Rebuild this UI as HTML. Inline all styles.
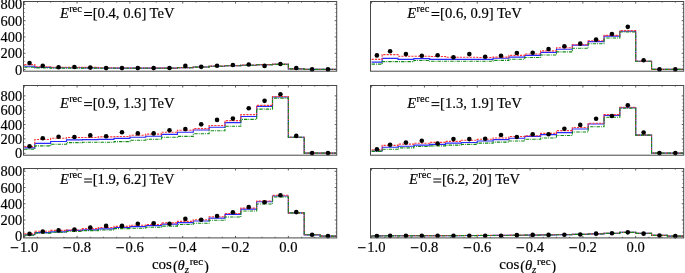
<!DOCTYPE html>
<html><head><meta charset="utf-8"><style>
html,body{margin:0;padding:0;background:#fff;}
body{width:685px;height:273px;overflow:hidden;}
svg{display:block;font-family:'Liberation Serif',serif;will-change:transform} text{stroke:#000;stroke-width:0.18px}
</style></head><body>
<svg width="685" height="273" viewBox="0 0 685 273">
<clipPath id="clipA"><rect x="23.5" y="1.5" width="313.2" height="69.7"/></clipPath><g clip-path="url(#clipA)" fill="none"><path d="M24.25 66.21H34.81V67.44H50.66V67.76H66.51V67.76H82.35V67.85H98.2V68.01H114.04V68.09H129.89V68.17H145.74V68.17H161.58V68.17H177.43V67.68H193.27V67.03H209.12V66.21H224.97V65.72H240.81V65.23H256.66V64.74H272.5V64.25H288.35V68.91H304.2V69.4H320.04V69.4H335.89" stroke="#2828ff" stroke-width="1.15"/><path d="M24.25 64.66H34.81V66.7H50.66V67.19H66.51V67.19H82.35V67.36H98.2V67.76H114.04V67.93H129.89V68.01H145.74V68.01H161.58V68.09H177.43V67.6H193.27V66.95H209.12V66.13H224.97V65.64H240.81V65.15H256.66V64.66H272.5V64.16H288.35V68.83H304.2V69.4H320.04V69.4H335.89" stroke="#ff3636" stroke-width="1.1" stroke-dasharray="2.2 1.1"/><path d="M24.25 67.19H34.81V67.85H50.66V68.17H66.51V68.17H82.35V68.17H98.2V68.25H114.04V68.25H129.89V68.25H145.74V68.25H161.58V68.25H177.43V67.76H193.27V67.11H209.12V66.29H224.97V65.8H240.81V65.31H256.66V64.82H272.5V64.33H288.35V68.91H304.2V69.4H320.04V69.4H335.89" stroke="#138a13" stroke-width="1.1" stroke-dasharray="3.4 1 0.9 1.1"/></g><circle cx="29.53" cy="62.94" r="2.3"/><circle cx="42.74" cy="65.72" r="2.3"/><circle cx="58.58" cy="67.19" r="2.3"/><circle cx="74.43" cy="67.03" r="2.3"/><circle cx="90.28" cy="67.6" r="2.3"/><circle cx="106.12" cy="68.09" r="2.3"/><circle cx="121.97" cy="68.09" r="2.3"/><circle cx="137.81" cy="68.09" r="2.3"/><circle cx="153.66" cy="68.09" r="2.3"/><circle cx="169.5" cy="67.93" r="2.3"/><circle cx="185.35" cy="65.88" r="2.3"/><circle cx="201.2" cy="66.86" r="2.3"/><circle cx="217.04" cy="65.72" r="2.3"/><circle cx="232.89" cy="64.98" r="2.3"/><circle cx="248.74" cy="64.49" r="2.3"/><circle cx="264.58" cy="65.88" r="2.3"/><circle cx="280.43" cy="64" r="2.3"/><circle cx="296.27" cy="68.01" r="2.3"/><circle cx="312.12" cy="69.4" r="2.3"/><circle cx="327.96" cy="69.4" r="2.3"/><path d="M23.5 69.55h2M336.7 69.55h-2M23.5 65.47h1.1M336.7 65.47h-1.1M23.5 61.4h1.1M336.7 61.4h-1.1M23.5 57.32h1.1M336.7 57.32h-1.1M23.5 53.25h2M336.7 53.25h-2M23.5 49.17h1.1M336.7 49.17h-1.1M23.5 45.1h1.1M336.7 45.1h-1.1M23.5 41.02h1.1M336.7 41.02h-1.1M23.5 36.95h2M336.7 36.95h-2M23.5 32.87h1.1M336.7 32.87h-1.1M23.5 28.8h1.1M336.7 28.8h-1.1M23.5 24.72h1.1M336.7 24.72h-1.1M23.5 20.65h2M336.7 20.65h-2M23.5 16.57h1.1M336.7 16.57h-1.1M23.5 12.5h1.1M336.7 12.5h-1.1M23.5 8.42h1.1M336.7 8.42h-1.1M23.5 4.35h2M336.7 4.35h-2M24.25 1.5v2M37.46 1.5v1.1M50.66 1.5v1.1M63.87 1.5v1.1M77.07 1.5v2M90.28 1.5v1.1M103.48 1.5v1.1M116.69 1.5v1.1M129.89 1.5v2M143.09 1.5v1.1M156.3 1.5v1.1M169.51 1.5v1.1M182.71 1.5v2M195.92 1.5v1.1M209.12 1.5v1.1M222.33 1.5v1.1M235.53 1.5v2M248.74 1.5v1.1M261.94 1.5v1.1M275.15 1.5v1.1M288.35 1.5v2M301.56 1.5v1.1M314.76 1.5v1.1M327.97 1.5v1.1" stroke="#484848" stroke-width="0.9" fill="none"/><rect x="23.5" y="1.5" width="313.2" height="69.7" fill="none" stroke="#484848" stroke-width="1"/><text x="59.94" y="17.5" font-size="14.6" font-style="italic">E</text><text x="69.14" y="11.7" font-size="10.5">rec</text><rect x="84.14" y="12" width="7.9" height="1.0"/><rect x="84.14" y="15" width="7.9" height="1.0"/><text x="92.74" y="17.5" font-size="14.6">[0.4, 0.6] TeV</text>
<text x="22.1" y="74.55" text-anchor="end" font-size="14.4">0</text>
<text x="22.1" y="58.25" text-anchor="end" font-size="14.4">200</text>
<text x="22.1" y="41.95" text-anchor="end" font-size="14.4">400</text>
<text x="22.1" y="25.65" text-anchor="end" font-size="14.4">600</text>
<text x="22.1" y="9.35" text-anchor="end" font-size="14.4">800</text>
<clipPath id="clipB"><rect x="370.5" y="1.5" width="313.2" height="69.7"/></clipPath><g clip-path="url(#clipB)" fill="none"><path d="M371.6 62.12H382.16V58.44H398.01V59.42H413.86V58.6H429.7V59.42H445.55V59.42H461.39V59.42H477.24V59.42H493.09V58.28H508.93V57.13H524.78V55.33H540.62V52.3H556.47V49.28H572.32V45.19H588.16V41.67H604.01V36.19H619.85V31.2H635.7V61.22H651.55V69.4H667.39V69.4H683.24" stroke="#2828ff" stroke-width="1.15"/><path d="M371.6 59.42H382.16V54.59H398.01V56.23H413.86V56.23H429.7V56.48H445.55V57.29H461.39V57.29H477.24V57.54H493.09V57.13H508.93V55.33H524.78V54.02H540.62V50.91H556.47V47.8H572.32V44.7H588.16V40.77H604.01V35.37H619.85V30.63H635.7V61.22H651.55V69.4H667.39V69.4H683.24" stroke="#ff3636" stroke-width="1.1" stroke-dasharray="2.2 1.1"/><path d="M371.6 64.16H382.16V61.63H398.01V61.63H413.86V60.48H429.7V61.3H445.55V61.22H461.39V61.22H477.24V61.22H493.09V60.4H508.93V59.18H524.78V57.46H540.62V55H556.47V51.89H572.32V48.21H588.16V43.71H604.01V38.07H619.85V31.94H635.7V61.22H651.55V69.4H667.39V69.4H683.24" stroke="#138a13" stroke-width="1.1" stroke-dasharray="3.4 1 0.9 1.1"/></g><circle cx="376.88" cy="55.41" r="2.3"/><circle cx="390.09" cy="51.24" r="2.3"/><circle cx="405.93" cy="54.1" r="2.3"/><circle cx="421.78" cy="55.74" r="2.3"/><circle cx="437.62" cy="55.25" r="2.3"/><circle cx="453.47" cy="57.29" r="2.3"/><circle cx="469.32" cy="54.1" r="2.3"/><circle cx="485.16" cy="56.8" r="2.3"/><circle cx="501.01" cy="55.82" r="2.3"/><circle cx="516.86" cy="53.04" r="2.3"/><circle cx="532.7" cy="52.79" r="2.3"/><circle cx="548.55" cy="49.03" r="2.3"/><circle cx="564.39" cy="46.33" r="2.3"/><circle cx="580.24" cy="43.63" r="2.3"/><circle cx="596.09" cy="39.62" r="2.3"/><circle cx="611.93" cy="33.98" r="2.3"/><circle cx="627.78" cy="26.86" r="2.3"/><circle cx="643.62" cy="60.24" r="2.3"/><circle cx="659.47" cy="69.4" r="2.3"/><circle cx="675.32" cy="69.4" r="2.3"/><path d="M683.7 69.55h-2M683.7 65.47h-1.1M683.7 61.4h-1.1M683.7 57.32h-1.1M683.7 53.25h-2M683.7 49.17h-1.1M683.7 45.1h-1.1M683.7 41.02h-1.1M683.7 36.95h-2M683.7 32.87h-1.1M683.7 28.8h-1.1M683.7 24.72h-1.1M683.7 20.65h-2M683.7 16.57h-1.1M683.7 12.5h-1.1M683.7 8.42h-1.1M683.7 4.35h-2M371.6 1.5v2M384.81 1.5v1.1M398.01 1.5v1.1M411.22 1.5v1.1M424.42 1.5v2M437.62 1.5v1.1M450.83 1.5v1.1M464.04 1.5v1.1M477.24 1.5v2M490.45 1.5v1.1M503.65 1.5v1.1M516.86 1.5v1.1M530.06 1.5v2M543.27 1.5v1.1M556.47 1.5v1.1M569.68 1.5v1.1M582.88 1.5v2M596.09 1.5v1.1M609.29 1.5v1.1M622.5 1.5v1.1M635.7 1.5v2M648.91 1.5v1.1M662.11 1.5v1.1M675.32 1.5v1.1" stroke="#484848" stroke-width="0.9" fill="none"/><rect x="370.5" y="1.5" width="313.2" height="69.7" fill="none" stroke="#484848" stroke-width="1"/><text x="407.29" y="17.5" font-size="14.6" font-style="italic">E</text><text x="416.49" y="11.7" font-size="10.5">rec</text><rect x="431.49" y="12" width="7.9" height="1.0"/><rect x="431.49" y="15" width="7.9" height="1.0"/><text x="440.09" y="17.5" font-size="14.6">[0.6, 0.9] TeV</text>
<clipPath id="clipC"><rect x="23.5" y="85.5" width="313.2" height="69.7"/></clipPath><g clip-path="url(#clipC)" fill="none"><path d="M24.25 147.92H34.81V143.39H50.66V141.52H66.51V139.87H82.35V139.58H98.2V139.3H114.04V138.43H129.89V137.28H145.74V136.28H161.58V134.33H177.43V132.25H193.27V130.02H209.12V127.29H224.97V122.61H240.81V116.5H256.66V106.36H272.5V97.02H288.35V137.21H304.2V153.1H320.04V153.1H335.89" stroke="#2828ff" stroke-width="1.15"/><path d="M24.25 146.63H34.81V139.44H50.66V138.29H66.51V137.5H82.35V137.5H98.2V136.92H114.04V136.49H129.89V135.2H145.74V134.12H161.58V132.18H177.43V130.24H193.27V128.58H209.12V125.49H224.97V120.6H240.81V114.63H256.66V105.36H272.5V96.51H288.35V137.21H304.2V153.1H320.04V153.1H335.89" stroke="#ff3636" stroke-width="1.1" stroke-dasharray="2.2 1.1"/><path d="M24.25 149.22H34.81V145.84H50.66V144.18H66.51V142.6H82.35V142.31H98.2V142.31H114.04V141.6H129.89V140.23H145.74V139.3H161.58V137.28H177.43V136.42H193.27V133.69H209.12V130.81H224.97V126.28H240.81V119.38H256.66V109.1H272.5V98.1H288.35V137.21H304.2V153.1H320.04V153.1H335.89" stroke="#138a13" stroke-width="1.1" stroke-dasharray="3.4 1 0.9 1.1"/></g><circle cx="29.53" cy="146.27" r="2.3"/><circle cx="42.74" cy="138.29" r="2.3"/><circle cx="58.58" cy="136.71" r="2.3"/><circle cx="74.43" cy="136.99" r="2.3"/><circle cx="90.28" cy="135.41" r="2.3"/><circle cx="106.12" cy="136.28" r="2.3"/><circle cx="121.97" cy="132.32" r="2.3"/><circle cx="137.81" cy="133.4" r="2.3"/><circle cx="153.66" cy="133.4" r="2.3"/><circle cx="169.5" cy="130.24" r="2.3"/><circle cx="185.35" cy="129.09" r="2.3"/><circle cx="201.2" cy="124.34" r="2.3"/><circle cx="217.04" cy="119.88" r="2.3"/><circle cx="232.89" cy="118.59" r="2.3"/><circle cx="248.74" cy="108.23" r="2.3"/><circle cx="264.58" cy="100.83" r="2.3"/><circle cx="280.43" cy="94.21" r="2.3"/><circle cx="296.27" cy="135.92" r="2.3"/><circle cx="312.12" cy="153.1" r="2.3"/><circle cx="327.96" cy="153.1" r="2.3"/><path d="M23.5 153.25h2M336.7 153.25h-2M23.5 149.66h1.1M336.7 149.66h-1.1M23.5 146.08h1.1M336.7 146.08h-1.1M23.5 142.5h1.1M336.7 142.5h-1.1M23.5 138.91h2M336.7 138.91h-2M23.5 135.32h1.1M336.7 135.32h-1.1M23.5 131.74h1.1M336.7 131.74h-1.1M23.5 128.16h1.1M336.7 128.16h-1.1M23.5 124.57h2M336.7 124.57h-2M23.5 120.98h1.1M336.7 120.98h-1.1M23.5 117.4h1.1M336.7 117.4h-1.1M23.5 113.81h1.1M336.7 113.81h-1.1M23.5 110.23h2M336.7 110.23h-2M23.5 106.65h1.1M336.7 106.65h-1.1M23.5 103.06h1.1M336.7 103.06h-1.1M23.5 99.47h1.1M336.7 99.47h-1.1M23.5 95.89h2M336.7 95.89h-2M24.25 85.5v2M37.46 85.5v1.1M50.66 85.5v1.1M63.87 85.5v1.1M77.07 85.5v2M90.28 85.5v1.1M103.48 85.5v1.1M116.69 85.5v1.1M129.89 85.5v2M143.09 85.5v1.1M156.3 85.5v1.1M169.51 85.5v1.1M182.71 85.5v2M195.92 85.5v1.1M209.12 85.5v1.1M222.33 85.5v1.1M235.53 85.5v2M248.74 85.5v1.1M261.94 85.5v1.1M275.15 85.5v1.1M288.35 85.5v2M301.56 85.5v1.1M314.76 85.5v1.1M327.97 85.5v1.1" stroke="#484848" stroke-width="0.9" fill="none"/><rect x="23.5" y="85.5" width="313.2" height="69.7" fill="none" stroke="#484848" stroke-width="1"/><text x="59.94" y="107.6" font-size="14.6" font-style="italic">E</text><text x="69.14" y="101.8" font-size="10.5">rec</text><rect x="84.14" y="102.1" width="7.9" height="1.0"/><rect x="84.14" y="105.1" width="7.9" height="1.0"/><text x="92.74" y="107.6" font-size="14.6">[0.9, 1.3] TeV</text>
<text x="22.1" y="158.25" text-anchor="end" font-size="14.4">0</text>
<text x="22.1" y="143.91" text-anchor="end" font-size="14.4">200</text>
<text x="22.1" y="129.57" text-anchor="end" font-size="14.4">400</text>
<text x="22.1" y="115.23" text-anchor="end" font-size="14.4">600</text>
<text x="22.1" y="100.89" text-anchor="end" font-size="14.4">800</text>
<clipPath id="clipD"><rect x="370.5" y="85.5" width="313.2" height="69.7"/></clipPath><g clip-path="url(#clipD)" fill="none"><path d="M371.6 151.01H382.16V147.28H398.01V146.27H413.86V145.19H429.7V144.33H445.55V143.11H461.39V142.53H477.24V141.02H493.09V139.58H508.93V138.22H524.78V136.42H540.62V134.55H556.47V132.61H572.32V129.01H588.16V123.98H604.01V115.35H619.85V107.73H635.7V135.12H651.55V153.1H667.39V153.1H683.24" stroke="#2828ff" stroke-width="1.15"/><path d="M371.6 149.86H382.16V145.33H398.01V144.11H413.86V143.18H429.7V142.39H445.55V141.38H461.39V140.23H477.24V139.3H493.09V137.93H508.93V136.49H524.78V135.7H540.62V133.4H556.47V130.6H572.32V127.5H588.16V123.19H604.01V114.63H619.85V107.23H635.7V135.12H651.55V153.1H667.39V153.1H683.24" stroke="#ff3636" stroke-width="1.1" stroke-dasharray="2.2 1.1"/><path d="M371.6 151.37H382.16V149.29H398.01V147.85H413.86V146.49H429.7V145.91H445.55V145.12H461.39V144.33H477.24V143.11H493.09V142.17H508.93V141.02H524.78V139.22H540.62V137.93H556.47V135.48H572.32V132.03H588.16V126.71H604.01V117.22H619.85V108.23H635.7V135.12H651.55V153.1H667.39V153.1H683.24" stroke="#138a13" stroke-width="1.1" stroke-dasharray="3.4 1 0.9 1.1"/></g><circle cx="376.88" cy="149.22" r="2.3"/><circle cx="390.09" cy="144.69" r="2.3"/><circle cx="405.93" cy="142.6" r="2.3"/><circle cx="421.78" cy="140.73" r="2.3"/><circle cx="437.62" cy="143.61" r="2.3"/><circle cx="453.47" cy="139.08" r="2.3"/><circle cx="469.32" cy="139.08" r="2.3"/><circle cx="485.16" cy="138.72" r="2.3"/><circle cx="501.01" cy="134.98" r="2.3"/><circle cx="516.86" cy="137.07" r="2.3"/><circle cx="532.7" cy="134.19" r="2.3"/><circle cx="548.55" cy="134.19" r="2.3"/><circle cx="564.39" cy="128.8" r="2.3"/><circle cx="580.24" cy="124.92" r="2.3"/><circle cx="596.09" cy="118.8" r="2.3"/><circle cx="611.93" cy="115.93" r="2.3"/><circle cx="627.78" cy="105.29" r="2.3"/><circle cx="643.62" cy="132.46" r="2.3"/><circle cx="659.47" cy="153.1" r="2.3"/><circle cx="675.32" cy="153.1" r="2.3"/><path d="M683.7 153.25h-2M683.7 149.66h-1.1M683.7 146.08h-1.1M683.7 142.5h-1.1M683.7 138.91h-2M683.7 135.32h-1.1M683.7 131.74h-1.1M683.7 128.16h-1.1M683.7 124.57h-2M683.7 120.98h-1.1M683.7 117.4h-1.1M683.7 113.81h-1.1M683.7 110.23h-2M683.7 106.65h-1.1M683.7 103.06h-1.1M683.7 99.47h-1.1M683.7 95.89h-2M371.6 85.5v2M384.81 85.5v1.1M398.01 85.5v1.1M411.22 85.5v1.1M424.42 85.5v2M437.62 85.5v1.1M450.83 85.5v1.1M464.04 85.5v1.1M477.24 85.5v2M490.45 85.5v1.1M503.65 85.5v1.1M516.86 85.5v1.1M530.06 85.5v2M543.27 85.5v1.1M556.47 85.5v1.1M569.68 85.5v1.1M582.88 85.5v2M596.09 85.5v1.1M609.29 85.5v1.1M622.5 85.5v1.1M635.7 85.5v2M648.91 85.5v1.1M662.11 85.5v1.1M675.32 85.5v1.1" stroke="#484848" stroke-width="0.9" fill="none"/><rect x="370.5" y="85.5" width="313.2" height="69.7" fill="none" stroke="#484848" stroke-width="1"/><text x="407.29" y="107.6" font-size="14.6" font-style="italic">E</text><text x="416.49" y="101.8" font-size="10.5">rec</text><rect x="431.49" y="102.1" width="7.9" height="1.0"/><rect x="431.49" y="105.1" width="7.9" height="1.0"/><text x="440.09" y="107.6" font-size="14.6">[1.3, 1.9] TeV</text>
<clipPath id="clipE"><rect x="23.5" y="168.5" width="313.2" height="69.4"/></clipPath><g clip-path="url(#clipE)" fill="none"><path d="M24.25 234.72H34.81V232.61H50.66V231.8H66.51V230.42H82.35V229.94H98.2V228.8H114.04V227.5H129.89V226.61H145.74V225.64H161.58V224.18H177.43V222.64H193.27V221.02H209.12V218.1H224.97V214.37H240.81V209.17H256.66V201.79H272.5V196.04H288.35V212.91H304.2V234.8H320.04V236.1H335.89" stroke="#2828ff" stroke-width="1.15"/><path d="M24.25 233.91H34.81V231.23H50.66V230.42H66.51V229.94H82.35V228.64H98.2V227.5H114.04V226.37H129.89V225.31H145.74V224.5H161.58V222.88H177.43V221.34H193.27V219.72H209.12V216.8H224.97V213.55H240.81V208.12H256.66V200.98H272.5V195.23H288.35V212.91H304.2V234.8H320.04V236.1H335.89" stroke="#ff3636" stroke-width="1.1" stroke-dasharray="2.2 1.1"/><path d="M24.25 235.21H34.81V233.1H50.66V232.29H66.51V231.48H82.35V230.67H98.2V229.94H114.04V228.64H129.89V228.23H145.74V227.18H161.58V226.12H177.43V224.5H193.27V223.21H209.12V220.2H224.97V217.04H240.81V211.04H256.66V204.07H272.5V197.01H288.35V212.91H304.2V234.8H320.04V236.1H335.89" stroke="#138a13" stroke-width="1.1" stroke-dasharray="3.4 1 0.9 1.1"/></g><circle cx="29.53" cy="233.91" r="2.3"/><circle cx="42.74" cy="231.48" r="2.3"/><circle cx="58.58" cy="230.42" r="2.3"/><circle cx="74.43" cy="229.61" r="2.3"/><circle cx="90.28" cy="227.5" r="2.3"/><circle cx="106.12" cy="225.88" r="2.3"/><circle cx="121.97" cy="225.88" r="2.3"/><circle cx="137.81" cy="223.69" r="2.3"/><circle cx="153.66" cy="223.37" r="2.3"/><circle cx="169.5" cy="223.69" r="2.3"/><circle cx="185.35" cy="218.91" r="2.3"/><circle cx="201.2" cy="219.72" r="2.3"/><circle cx="217.04" cy="215.99" r="2.3"/><circle cx="232.89" cy="212.26" r="2.3"/><circle cx="248.74" cy="206.99" r="2.3"/><circle cx="264.58" cy="202.28" r="2.3"/><circle cx="280.43" cy="195.23" r="2.3"/><circle cx="296.27" cy="212.09" r="2.3"/><circle cx="312.12" cy="234.8" r="2.3"/><circle cx="327.96" cy="236.1" r="2.3"/><path d="M23.5 236.2h2M336.7 236.2h-2M23.5 232.14h1.1M336.7 232.14h-1.1M23.5 228.09h1.1M336.7 228.09h-1.1M23.5 224.03h1.1M336.7 224.03h-1.1M23.5 219.98h2M336.7 219.98h-2M23.5 215.92h1.1M336.7 215.92h-1.1M23.5 211.87h1.1M336.7 211.87h-1.1M23.5 207.81h1.1M336.7 207.81h-1.1M23.5 203.76h2M336.7 203.76h-2M23.5 199.7h1.1M336.7 199.7h-1.1M23.5 195.65h1.1M336.7 195.65h-1.1M23.5 191.59h1.1M336.7 191.59h-1.1M23.5 187.54h2M336.7 187.54h-2M23.5 183.48h1.1M336.7 183.48h-1.1M23.5 179.43h1.1M336.7 179.43h-1.1M23.5 175.38h1.1M336.7 175.38h-1.1M23.5 171.32h2M336.7 171.32h-2M24.25 237.9v-2M24.25 168.5v2M37.46 237.9v-1.1M37.46 168.5v1.1M50.66 237.9v-1.1M50.66 168.5v1.1M63.87 237.9v-1.1M63.87 168.5v1.1M77.07 237.9v-2M77.07 168.5v2M90.28 237.9v-1.1M90.28 168.5v1.1M103.48 237.9v-1.1M103.48 168.5v1.1M116.69 237.9v-1.1M116.69 168.5v1.1M129.89 237.9v-2M129.89 168.5v2M143.09 237.9v-1.1M143.09 168.5v1.1M156.3 237.9v-1.1M156.3 168.5v1.1M169.51 237.9v-1.1M169.51 168.5v1.1M182.71 237.9v-2M182.71 168.5v2M195.92 237.9v-1.1M195.92 168.5v1.1M209.12 237.9v-1.1M209.12 168.5v1.1M222.33 237.9v-1.1M222.33 168.5v1.1M235.53 237.9v-2M235.53 168.5v2M248.74 237.9v-1.1M248.74 168.5v1.1M261.94 237.9v-1.1M261.94 168.5v1.1M275.15 237.9v-1.1M275.15 168.5v1.1M288.35 237.9v-2M288.35 168.5v2M301.56 237.9v-1.1M301.56 168.5v1.1M314.76 237.9v-1.1M314.76 168.5v1.1M327.97 237.9v-1.1M327.97 168.5v1.1" stroke="#484848" stroke-width="0.9" fill="none"/><rect x="23.5" y="168.5" width="313.2" height="69.4" fill="none" stroke="#484848" stroke-width="1"/><text x="59.94" y="184" font-size="14.6" font-style="italic">E</text><text x="69.14" y="178.2" font-size="10.5">rec</text><rect x="84.14" y="178.5" width="7.9" height="1.0"/><rect x="84.14" y="181.5" width="7.9" height="1.0"/><text x="92.74" y="184" font-size="14.6">[1.9, 6.2] TeV</text>
<text x="22.1" y="241.2" text-anchor="end" font-size="14.4">0</text>
<text x="22.1" y="224.98" text-anchor="end" font-size="14.4">200</text>
<text x="22.1" y="208.76" text-anchor="end" font-size="14.4">400</text>
<text x="22.1" y="192.54" text-anchor="end" font-size="14.4">600</text>
<text x="22.1" y="176.32" text-anchor="end" font-size="14.4">800</text>
<rect x="10.65" y="247.15" width="7.6" height="1.1"/>
<text x="19.95" y="252.1" font-size="14.6">1.0</text>
<rect x="63.47" y="247.15" width="7.6" height="1.1"/>
<text x="72.77" y="252.1" font-size="14.6">0.8</text>
<rect x="116.29" y="247.15" width="7.6" height="1.1"/>
<text x="125.59" y="252.1" font-size="14.6">0.6</text>
<rect x="169.11" y="247.15" width="7.6" height="1.1"/>
<text x="178.41" y="252.1" font-size="14.6">0.4</text>
<rect x="221.93" y="247.15" width="7.6" height="1.1"/>
<text x="231.23" y="252.1" font-size="14.6">0.2</text>
<text x="279.25" y="252.1" font-size="14.6">0.0</text>
<text x="151.9" y="269.4" font-size="15">cos</text>
<text x="172.9" y="270.5" font-size="14.6">(</text>
<text x="177.5" y="269.7" font-size="14.6" font-style="italic">θ</text>
<text x="184.7" y="273.2" font-size="11" font-style="italic">z</text>
<text x="189.7" y="264.7" font-size="11">rec</text>
<text x="203.9" y="270.6" font-size="14.6">)</text>
<clipPath id="clipF"><rect x="370.5" y="168.5" width="313.2" height="69.4"/></clipPath><g clip-path="url(#clipF)" fill="none"><path d="M371.6 235.86H382.16V235.78H398.01V235.78H413.86V235.69H429.7V235.69H445.55V235.61H461.39V235.53H477.24V235.45H493.09V235.37H508.93V235.21H524.78V235.05H540.62V234.88H556.47V234.64H572.32V234.32H588.16V233.91H604.01V233.26H619.85V232.29H635.7V233.34H651.55V235.37H667.39V236.1H683.24" stroke="#2828ff" stroke-width="1.15"/><path d="M371.6 235.78H382.16V235.69H398.01V235.69H413.86V235.61H429.7V235.61H445.55V235.53H461.39V235.45H477.24V235.37H493.09V235.29H508.93V235.13H524.78V234.96H540.62V234.8H556.47V234.56H572.32V234.23H588.16V233.83H604.01V233.18H619.85V232.21H635.7V233.26H651.55V235.37H667.39V236.1H683.24" stroke="#ff3636" stroke-width="1.1" stroke-dasharray="2.2 1.1"/><path d="M371.6 235.94H382.16V235.86H398.01V235.86H413.86V235.78H429.7V235.78H445.55V235.69H461.39V235.61H477.24V235.53H493.09V235.45H508.93V235.29H524.78V235.13H540.62V234.96H556.47V234.72H572.32V234.4H588.16V233.99H604.01V233.34H619.85V232.37H635.7V233.42H651.55V235.37H667.39V236.1H683.24" stroke="#138a13" stroke-width="1.1" stroke-dasharray="3.4 1 0.9 1.1"/></g><circle cx="376.88" cy="235.94" r="2.3"/><circle cx="390.09" cy="235.86" r="2.3"/><circle cx="405.93" cy="235.86" r="2.3"/><circle cx="421.78" cy="235.78" r="2.3"/><circle cx="437.62" cy="235.78" r="2.3"/><circle cx="453.47" cy="235.78" r="2.3"/><circle cx="469.32" cy="235.78" r="2.3"/><circle cx="485.16" cy="235.78" r="2.3"/><circle cx="501.01" cy="235.69" r="2.3"/><circle cx="516.86" cy="235.13" r="2.3"/><circle cx="532.7" cy="234.88" r="2.3"/><circle cx="548.55" cy="234.88" r="2.3"/><circle cx="564.39" cy="234.72" r="2.3"/><circle cx="580.24" cy="234.48" r="2.3"/><circle cx="596.09" cy="233.67" r="2.3"/><circle cx="611.93" cy="233.18" r="2.3"/><circle cx="627.78" cy="232.37" r="2.3"/><circle cx="643.62" cy="233.67" r="2.3"/><circle cx="659.47" cy="235.61" r="2.3"/><circle cx="675.32" cy="236.1" r="2.3"/><path d="M683.7 236.2h-2M683.7 232.14h-1.1M683.7 228.09h-1.1M683.7 224.03h-1.1M683.7 219.98h-2M683.7 215.92h-1.1M683.7 211.87h-1.1M683.7 207.81h-1.1M683.7 203.76h-2M683.7 199.7h-1.1M683.7 195.65h-1.1M683.7 191.59h-1.1M683.7 187.54h-2M683.7 183.48h-1.1M683.7 179.43h-1.1M683.7 175.38h-1.1M683.7 171.32h-2M371.6 237.9v-2M371.6 168.5v2M384.81 237.9v-1.1M384.81 168.5v1.1M398.01 237.9v-1.1M398.01 168.5v1.1M411.22 237.9v-1.1M411.22 168.5v1.1M424.42 237.9v-2M424.42 168.5v2M437.62 237.9v-1.1M437.62 168.5v1.1M450.83 237.9v-1.1M450.83 168.5v1.1M464.04 237.9v-1.1M464.04 168.5v1.1M477.24 237.9v-2M477.24 168.5v2M490.45 237.9v-1.1M490.45 168.5v1.1M503.65 237.9v-1.1M503.65 168.5v1.1M516.86 237.9v-1.1M516.86 168.5v1.1M530.06 237.9v-2M530.06 168.5v2M543.27 237.9v-1.1M543.27 168.5v1.1M556.47 237.9v-1.1M556.47 168.5v1.1M569.68 237.9v-1.1M569.68 168.5v1.1M582.88 237.9v-2M582.88 168.5v2M596.09 237.9v-1.1M596.09 168.5v1.1M609.29 237.9v-1.1M609.29 168.5v1.1M622.5 237.9v-1.1M622.5 168.5v1.1M635.7 237.9v-2M635.7 168.5v2M648.91 237.9v-1.1M648.91 168.5v1.1M662.11 237.9v-1.1M662.11 168.5v1.1M675.32 237.9v-1.1M675.32 168.5v1.1" stroke="#484848" stroke-width="0.9" fill="none"/><rect x="370.5" y="168.5" width="313.2" height="69.4" fill="none" stroke="#484848" stroke-width="1"/><text x="409.11" y="184" font-size="14.6" font-style="italic">E</text><text x="418.31" y="178.2" font-size="10.5">rec</text><rect x="433.31" y="178.5" width="7.9" height="1.0"/><rect x="433.31" y="181.5" width="7.9" height="1.0"/><text x="441.91" y="184" font-size="14.6">[6.2, 20] TeV</text>
<rect x="358" y="247.15" width="7.6" height="1.1"/>
<text x="367.3" y="252.1" font-size="14.6">1.0</text>
<rect x="410.82" y="247.15" width="7.6" height="1.1"/>
<text x="420.12" y="252.1" font-size="14.6">0.8</text>
<rect x="463.64" y="247.15" width="7.6" height="1.1"/>
<text x="472.94" y="252.1" font-size="14.6">0.6</text>
<rect x="516.46" y="247.15" width="7.6" height="1.1"/>
<text x="525.76" y="252.1" font-size="14.6">0.4</text>
<rect x="569.28" y="247.15" width="7.6" height="1.1"/>
<text x="578.58" y="252.1" font-size="14.6">0.2</text>
<text x="626.6" y="252.1" font-size="14.6">0.0</text>
<text x="499.3" y="269.4" font-size="15">cos</text>
<text x="520.3" y="270.5" font-size="14.6">(</text>
<text x="524.9" y="269.7" font-size="14.6" font-style="italic">θ</text>
<text x="532.1" y="273.2" font-size="11" font-style="italic">z</text>
<text x="537.1" y="264.7" font-size="11">rec</text>
<text x="551.3" y="270.6" font-size="14.6">)</text>
</svg>
</body></html>
